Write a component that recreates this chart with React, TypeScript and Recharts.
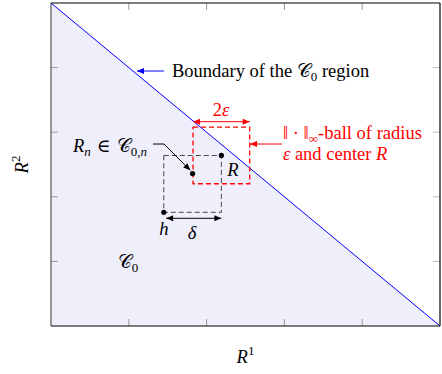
import React from "react";
import {
  Area,
  ComposedChart,
  ReferenceArea,
  ReferenceDot,
  ReferenceLine,
  Scatter,
  XAxis,
  YAxis,
} from "recharts";

// boundary of the C0 region (x + y = 5 in chart units)
const boundaryX = [0, 5];
const boundaryY = [5, 0];
const axisTicks = [1, 2, 3, 4];

// marked points: R, R_n, h
const pointNames = ["R", "Rn", "h"];
const pointX = [2.19, 1.82, 1.45];
const pointY = [2.64, 2.36, 1.76];

// half side of the red ball around R (x, y)
const epsilon = [0.364, 0.438];

const SERIF = '"Liberation Serif", "DejaVu Serif", serif';
const FS = 18.5;
const SUB = 13;
const RED = "#ff0000";
const BLUE = "#0000ff";

const chartData = boundaryX.map((x, i) => ({ x, y: boundaryY[i] }));
const dots = pointNames.map((name, i) => ({ name, x: pointX[i], y: pointY[i] }));
const R = dots[0];
const H = dots[2];

// tick length in data units (about 7px)
const tickLenX = 0.09;
const tickLenY = 0.108;

const arrowShape =
  (color: string, both: boolean, head = true, width = 1) =>
  (p: any) => {
    const { x1, y1, x2, y2 } = p;
    const dx = x2 - x1;
    const dy = y2 - y1;
    const len = Math.sqrt(dx * dx + dy * dy) || 1;
    const ux = dx / len;
    const uy = dy / len;
    const hl = 7;
    const hw = 3;
    const headAt = (tx: number, ty: number, sx: number, sy: number) => (
      <polygon
        points={`${tx},${ty} ${tx - sx * hl - sy * hw},${ty - sy * hl + sx * hw} ${
          tx - sx * hl + sy * hw
        },${ty - sy * hl - sx * hw}`}
        fill={color}
      />
    );
    return (
      <g>
        <line x1={x1} y1={y1} x2={x2} y2={y2} stroke={color} strokeWidth={width} />
        {head && headAt(x2, y2, ux, uy)}
        {both && headAt(x1, y1, -ux, -uy)}
      </g>
    );
  };

const note = (
  key: string,
  x: number,
  y: number,
  render: (cx: number, cy: number) => React.ReactNode
) => (
  <ReferenceDot
    key={key}
    x={x}
    y={y}
    r={0}
    fill="none"
    stroke="none"
    ifOverflow="visible"
    label={{
      content: (p: any) =>
        render(p.viewBox.x + (p.viewBox.width || 0) / 2, p.viewBox.y + (p.viewBox.height || 0) / 2),
    }}
  />
);

const seg = (key: string, a: number[], b: number[], color: string, width = 1.2) => (
  <ReferenceLine
    key={key}
    segment={[
      { x: a[0], y: a[1] },
      { x: b[0], y: b[1] },
    ]}
    ifOverflow="visible"
    shape={arrowShape(color, false, false, width)}
  />
);

const txt = { fontFamily: SERIF, fontSize: FS };

export default function App() {
  return (
    <div style={{ position: "absolute", left: 0, top: 0, background: "#fff" }}>
      <ComposedChart
        width={442}
        height={374}
        data={chartData}
        margin={{ top: 3, right: 2, bottom: 48, left: 51 }}
      >
        <XAxis dataKey="x" type="number" domain={[0, 5]} hide />
        <YAxis type="number" domain={[0, 5]} hide />

        <Area
          dataKey="y"
          type="linear"
          stroke={BLUE}
          strokeWidth={1}
          fill="#efeffc"
          fillOpacity={1}
          isAnimationActive={false}
        />

        {/* ticks on all four sides */}
        {axisTicks.map((t) => seg(`tb${t}`, [t, 0], [t, tickLenY], "#999", 1))}
        {axisTicks.map((t) => seg(`tt${t}`, [t, 5], [t, 5 - tickLenY], "#999", 1))}
        {axisTicks.map((t) => seg(`tl${t}`, [0, t], [tickLenX, t], "#999", 1))}
        {axisTicks.map((t) => seg(`tr${t}`, [5, t], [5 - tickLenX, t], "#bbb", 1))}

        {/* frame */}
        {seg("fl", [0, 0], [0, 5], "#555")}
        {seg("fb", [0, 0], [5, 0], "#000")}
        {seg("ft", [0, 5], [5, 5], "#000")}
        {seg("fr", [5, 0], [5, 5], "#000")}

        {/* delta square between h and R */}
        <ReferenceArea
          x1={H.x}
          x2={R.x}
          y1={H.y}
          y2={R.y}
          fill="none"
          stroke="#444"
          strokeDasharray="5 3"
          ifOverflow="visible"
        />
        {/* infinity ball of radius epsilon around R */}
        <ReferenceArea
          x1={R.x - epsilon[0]}
          x2={R.x + epsilon[0]}
          y1={R.y - epsilon[1]}
          y2={R.y + epsilon[1]}
          fill="none"
          stroke={RED}
          strokeWidth={1.3}
          strokeDasharray="5 3"
          ifOverflow="visible"
        />

        {/* 2 epsilon arrow */}
        <ReferenceLine
          segment={[
            { x: R.x - epsilon[0], y: 3.163 },
            { x: R.x + epsilon[0], y: 3.163 },
          ]}
          ifOverflow="visible"
          shape={arrowShape(RED, true)}
        />
        {/* delta arrow */}
        <ReferenceLine
          segment={[
            { x: H.x + 0.03, y: 1.667 },
            { x: R.x, y: 1.667 },
          ]}
          ifOverflow="visible"
          shape={arrowShape("#000", true)}
        />
        {/* boundary arrow */}
        <ReferenceLine
          segment={[
            { x: 1.452, y: 3.947 },
            { x: 1.105, y: 3.947 },
          ]}
          ifOverflow="visible"
          shape={arrowShape(BLUE, false)}
        />
        {/* ball arrow */}
        <ReferenceLine
          segment={[
            { x: 2.969, y: 2.817 },
            { x: 2.558, y: 2.817 },
          ]}
          ifOverflow="visible"
          shape={arrowShape(RED, false)}
        />
        {/* R_n connector */}
        {seg("rnc", [1.311, 2.817], [1.452, 2.817], "#000", 1)}
        <ReferenceLine
          segment={[
            { x: 1.452, y: 2.817 },
            { x: 1.79, y: 2.41 },
          ]}
          ifOverflow="visible"
          shape={arrowShape("#000", false)}
        />

        <Scatter
          data={dots}
          dataKey="y"
          isAnimationActive={false}
          shape={(p: any) => <circle cx={p.cx} cy={p.cy} r={2.6} fill="#000" />}
        />

        {note("boundary", 1.555, 3.947, (cx, cy) => (
          <text x={cx} y={cy + 6} style={txt} fill="#000">
            Boundary of the 𝒞<tspan fontSize={SUB} dy={4}>0</tspan>
            <tspan dy={-4}> region</tspan>
          </text>
        ))}
        {note("2eps", 2.185, 3.35, (cx, cy) => (
          <text x={cx} y={cy + 6} textAnchor="middle" style={txt} fill={RED}>
            2<tspan fontStyle="italic">ε</tspan>
          </text>
        ))}
        {note("ball1", 2.982, 2.965, (cx, cy) => (
          <text x={cx} y={cy + 5} style={txt} fill={RED}>
            ‖ · ‖<tspan fontSize={SUB} dy={4}>∞</tspan>
            <tspan dy={-4}>-ball of radius</tspan>
          </text>
        ))}
        {note("ball2", 2.982, 2.66, (cx, cy) => (
          <text x={cx} y={cy + 6} style={txt} fill={RED}>
            <tspan fontStyle="italic">ε</tspan> and center <tspan fontStyle="italic">R</tspan>
          </text>
        ))}
        {note("rn", 1.234, 2.776, (cx, cy) => (
          <text x={cx} y={cy + 5} textAnchor="end" style={txt} fill="#000">
            <tspan fontStyle="italic">R</tspan>
            <tspan fontSize={SUB} fontStyle="italic" dy={4}>n</tspan>
            <tspan dy={-4}>{"\u2004∈\u2004𝒞"}</tspan>
            <tspan fontSize={SUB} dy={4}>0,</tspan>
            <tspan fontSize={SUB} fontStyle="italic">n</tspan>
          </text>
        ))}
        {note("R", 2.339, 2.415, (cx, cy) => (
          <text x={cx} y={cy + 6} textAnchor="middle" style={txt} fontStyle="italic" fill="#000">
            R
          </text>
        ))}
        {note("h", 1.452, 1.5, (cx, cy) => (
          <text x={cx} y={cy + 6} textAnchor="middle" style={txt} fontStyle="italic" fill="#000">
            h
          </text>
        ))}
        {note("delta", 1.812, 1.44, (cx, cy) => (
          <text x={cx} y={cy + 6} textAnchor="middle" style={txt} fontStyle="italic" fill="#000">
            δ
          </text>
        ))}
        {note("c0", 0.99, 0.99, (cx, cy) => (
          <text x={cx} y={cy + 6} textAnchor="middle" style={txt} fill="#000">
            𝒞<tspan fontSize={SUB} dy={4}>0</tspan>
          </text>
        ))}
        {/* axis titles */}
        {note("r1", 2.5, -0.48, (cx, cy) => (
          <text x={cx} y={cy + 6} textAnchor="middle" style={txt} fill="#000">
            <tspan fontStyle="italic">R</tspan>
            <tspan fontSize={SUB} dy={-8}>1</tspan>
          </text>
        ))}
        {note("r2", -0.373, 2.5, (cx, cy) => (
          <text
            x={cx}
            y={cy + 6}
            textAnchor="middle"
            transform={`rotate(-90 ${cx} ${cy})`}
            style={txt}
            fill="#000"
          >
            <tspan fontStyle="italic">R</tspan>
            <tspan fontSize={SUB} dy={-8}>2</tspan>
          </text>
        ))}
      </ComposedChart>
    </div>
  );
}
